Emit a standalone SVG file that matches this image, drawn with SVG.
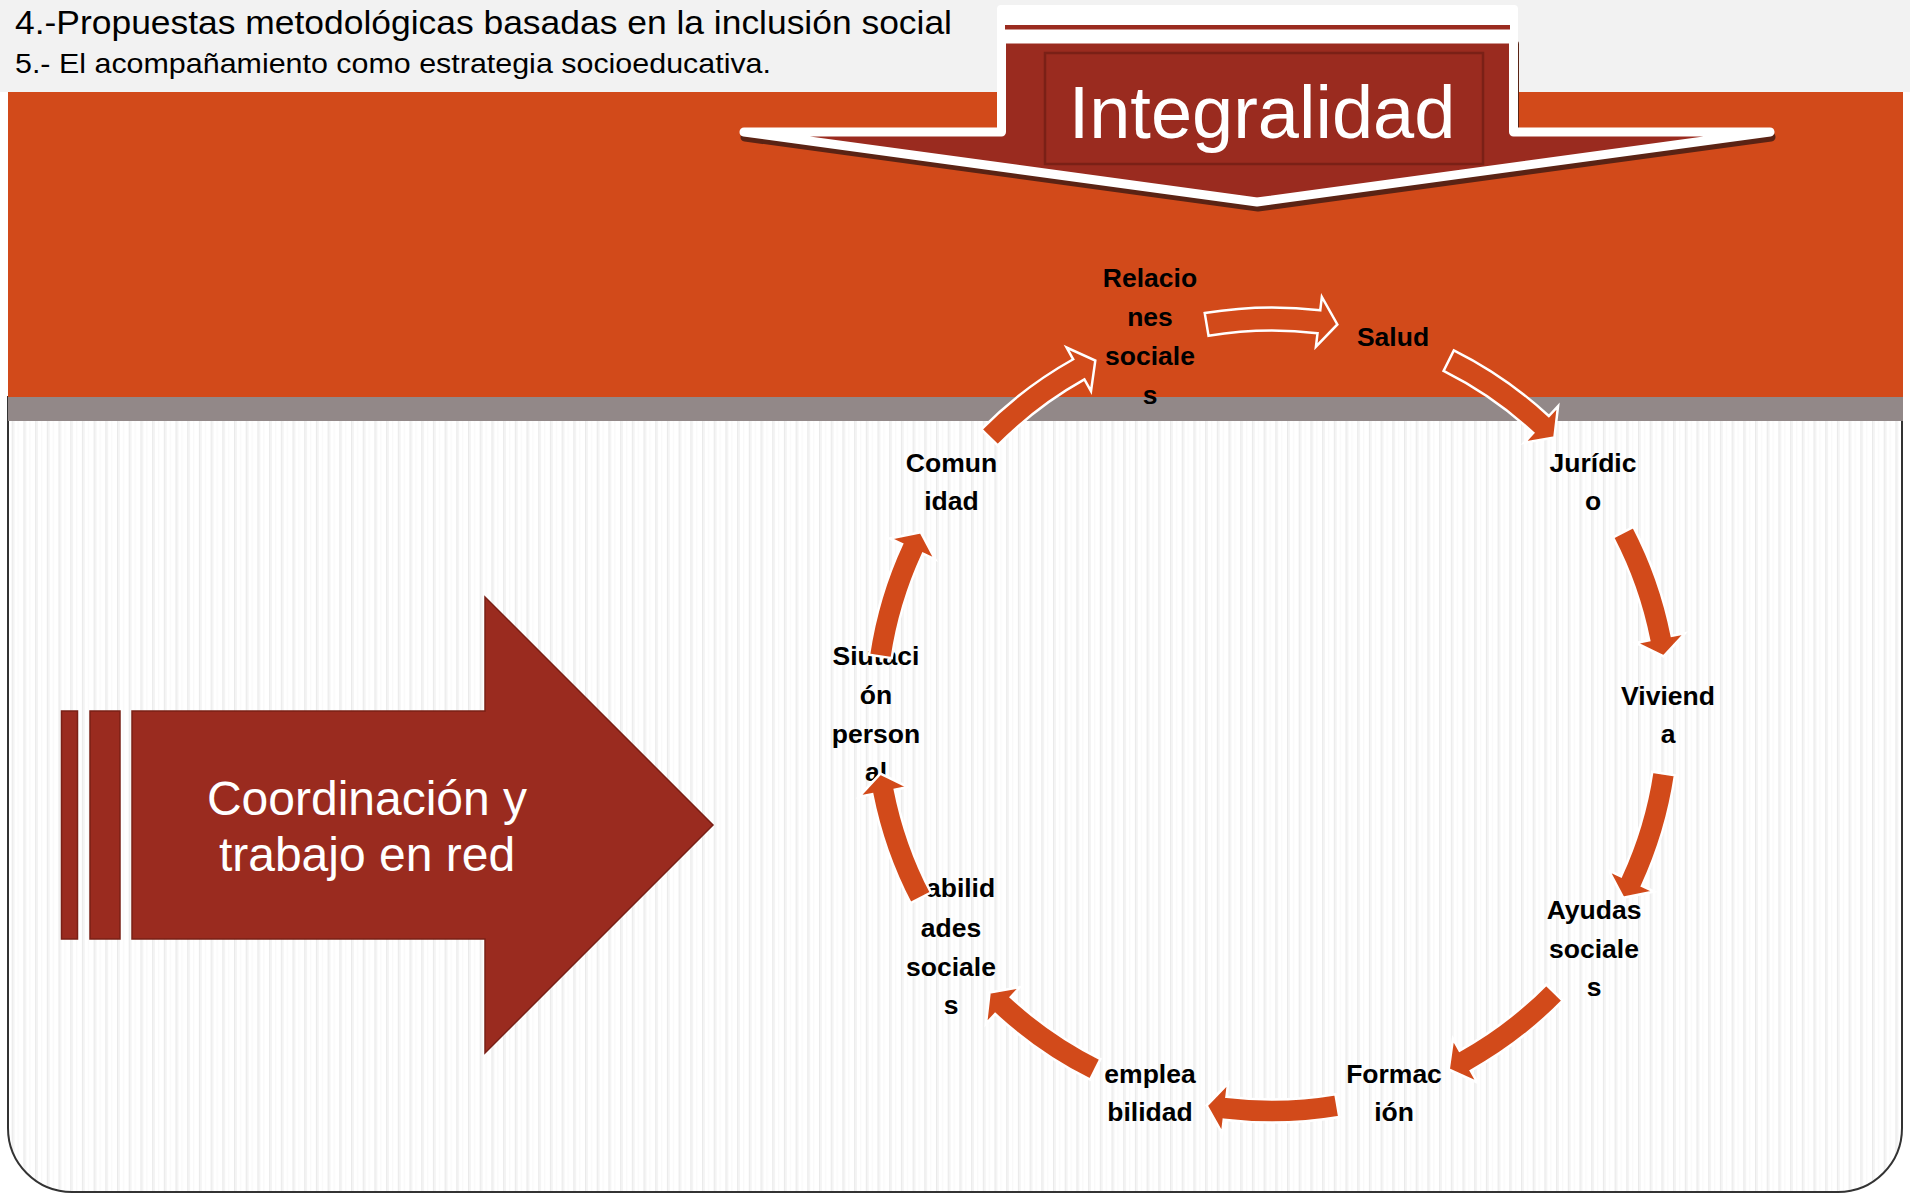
<svg xmlns="http://www.w3.org/2000/svg" xmlns:xlink="http://www.w3.org/1999/xlink" width="1910" height="1199" viewBox="0 0 1910 1199">
<defs>
<style>
.lbl { font-family: "Liberation Sans", Arial, sans-serif; font-weight: bold; font-size: 26.5px; fill: #000; text-anchor: middle; }
.carr { fill: #D24A1A; stroke: #FFFFFF; stroke-width: 2.5; stroke-linejoin: miter; }
.dr { fill: #9A2B1F; stroke: #7A2016; stroke-width: 1.5; }
.big { font-family: "Liberation Sans", Arial, sans-serif; fill: #FFFFFF; text-anchor: middle; }
.hdr { font-family: "Liberation Sans", Arial, sans-serif; fill: #000; }
</style>
<pattern id="stripes" patternUnits="userSpaceOnUse" width="11.7" height="20">
<rect width="11.7" height="20" fill="#FFFFFF"/>
<rect x="0" width="1.2" height="20" fill="#EAEAEA"/>
<rect x="1.2" width="1.6" height="20" fill="#F3F3F3"/>
<rect x="6" width="1" height="20" fill="#F8F8F8"/>
</pattern>
<path id="cyc" d="M403.02,60.23 A407.5,407.5 0 0 1 369.92,170.93 L382.17,176.59 L351.26,182.85 L336.79,155.62 L349.04,161.28 A384.5,384.5 0 0 0 380.28,56.83 Z"/>
</defs>

<rect width="1910" height="1199" fill="#FFFFFF"/>
<rect x="0" y="0" width="1910" height="92" fill="#F2F2F2"/>
<path d="M8,397 V1128 A64,64 0 0 0 72,1192 H1838 A64,64 0 0 0 1902,1128 V397 Z" fill="url(#stripes)" stroke="#333333" stroke-width="2"/>
<rect x="8" y="92" width="1895" height="305.5" fill="#D24A1A"/>
<rect x="8" y="397" width="1895" height="24" fill="#928888"/>

<text class="hdr" x="15" y="34" font-size="33" textLength="937" lengthAdjust="spacingAndGlyphs">4.-Propuestas metodológicas basadas en la inclusión social</text>
<text class="hdr" x="15" y="72.5" font-size="27.5" textLength="756" lengthAdjust="spacingAndGlyphs">5.- El acompañamiento como estrategia socioeducativa.</text>

<g id="integralidad">
<polygon points="1001.5,39 1001.5,132 744,132 1257,202 1770,132 1513.5,132 1513.5,39" transform="translate(1,5)" fill="#5A2314" stroke="#5A2314" stroke-width="9" stroke-linejoin="round"/>
<polygon points="1001.5,39 1001.5,132 744,132 1257,202 1770,132 1513.5,132 1513.5,39" fill="#9A2B1F" stroke="#FFFFFF" stroke-width="9" stroke-linejoin="round"/>
<rect x="997" y="5" width="521" height="38" rx="4" fill="#FFFFFF"/>
<rect x="1005" y="25" width="505" height="4.5" fill="#9A2B1F"/>
<rect x="1045" y="53" width="438" height="111" fill="#9A2B1F" stroke="#7A2016" stroke-width="2.5"/>
<text class="big" x="1262" y="138" font-size="74">Integralidad</text>
</g>

<g id="coordinacion">
<rect x="61.5" y="711" width="16" height="228" class="dr"/>
<rect x="90" y="711" width="30" height="228" class="dr"/>
<polygon points="132,711 485,711 485,597 713,825 485,1053 485,939 132,939" class="dr"/>
<text class="big" x="367" y="815" font-size="48">Coordinación y</text>
<text class="big" x="367" y="871" font-size="48">trabajo en red</text>
</g>

<g id="n-relaciones">
<text class="lbl" x="1150" y="287">Relacio</text>
<text class="lbl" x="1150" y="326">nes</text>
<text class="lbl" x="1150" y="365">sociale</text>
<text class="lbl" x="1150" y="404">s</text>
</g>
<g id="n-salud">
<text class="lbl" x="1393" y="346">Salud</text>
</g>
<g id="n-juridico">
<text class="lbl" x="1593" y="472">Jurídic</text>
<text class="lbl" x="1593" y="510">o</text>
</g>
<g id="n-vivienda">
<text class="lbl" x="1668" y="705">Viviend</text>
<text class="lbl" x="1668" y="743">a</text>
</g>
<g id="n-ayudas">
<text class="lbl" x="1594" y="919">Ayudas</text>
<text class="lbl" x="1594" y="958">sociale</text>
<text class="lbl" x="1594" y="996">s</text>
</g>
<g id="n-formacion">
<text class="lbl" x="1394" y="1083">Formac</text>
<text class="lbl" x="1394" y="1121">ión</text>
</g>
<g id="n-empleabilidad">
<text class="lbl" x="1150" y="1083">emplea</text>
<text class="lbl" x="1150" y="1121">bilidad</text>
</g>
<g id="n-habilidades">
<text class="lbl" x="951" y="897">Habilid</text>
<text class="lbl" x="951" y="937">ades</text>
<text class="lbl" x="951" y="976">sociale</text>
<text class="lbl" x="951" y="1014">s</text>
</g>
<g id="n-situacion">
<text class="lbl" x="876" y="665">Siutaci</text>
<text class="lbl" x="876" y="704">ón</text>
<text class="lbl" x="876" y="743">person</text>
<text class="lbl" x="876" y="781">al</text>
</g>
<g id="n-comunidad">
<text class="lbl" x="951.5" y="472">Comun</text>
<text class="lbl" x="951.5" y="510">idad</text>
</g>

<g id="connectors">
<use xlink:href="#cyc" class="carr" transform="translate(1272 715) rotate(-108)"/>
<use xlink:href="#cyc" class="carr" transform="translate(1272 715) rotate(-72)"/>
<use xlink:href="#cyc" class="carr" transform="translate(1272 715) rotate(-36)"/>
<use xlink:href="#cyc" class="carr" transform="translate(1272 715) rotate(0)"/>
<use xlink:href="#cyc" class="carr" transform="translate(1272 715) rotate(36)"/>
<use xlink:href="#cyc" class="carr" transform="translate(1272 715) rotate(72)"/>
<use xlink:href="#cyc" class="carr" transform="translate(1272 715) rotate(108)"/>
<use xlink:href="#cyc" class="carr" transform="translate(1272 715) rotate(144)"/>
<use xlink:href="#cyc" class="carr" transform="translate(1272 715) rotate(180)"/>
<use xlink:href="#cyc" class="carr" transform="translate(1272 715) rotate(216)"/>
</g>
</svg>
